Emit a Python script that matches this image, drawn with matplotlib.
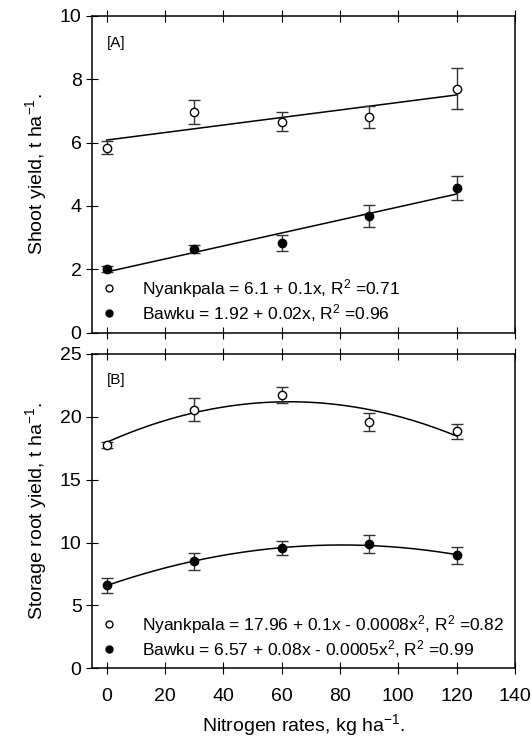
import numpy as np
import matplotlib
matplotlib.use("Agg")
import matplotlib.pyplot as plt
from matplotlib.lines import Line2D

plt.rcParams['font.family'] = ['Liberation Sans', 'DejaVu Sans']
plt.rcParams['mathtext.fontset'] = 'custom'
plt.rcParams['mathtext.rm'] = 'Liberation Sans'
plt.rcParams['mathtext.it'] = 'Liberation Sans:italic'

# nitrogen rates, kg/ha
n_rates = np.array([0, 30, 60, 90, 120])

# [A] shoot yield, t/ha
shoot_nyankpala = np.array([5.84, 6.96, 6.65, 6.8, 7.7])
shoot_nyankpala_err = np.array([0.21, 0.38, 0.30, 0.35, 0.65])
shoot_bawku = np.array([2.02, 2.63, 2.83, 3.68, 4.57])
shoot_bawku_err = np.array([0.10, 0.13, 0.26, 0.35, 0.38])

# [B] storage root yield, t/ha
root_nyankpala = np.array([17.75, 20.55, 21.72, 19.6, 18.85])
root_nyankpala_err = np.array([0.27, 0.9, 0.65, 0.7, 0.6])
root_bawku = np.array([6.6, 8.5, 9.55, 9.85, 9.0])
root_bawku_err = np.array([0.58, 0.65, 0.56, 0.72, 0.68])

legend_a = [r"Nyankpala = 6.1 + 0.1x, R$^2$ =0.71",
            r"Bawku = 1.92 + 0.02x, R$^2$ =0.96"]
legend_b = [r"Nyankpala = 17.96 + 0.1x - 0.0008x$^2$, R$^2$ =0.82",
            r"Bawku = 6.57 + 0.08x - 0.0005x$^2$, R$^2$ =0.99"]

fig = plt.figure(figsize=(5.32, 7.51), dpi=100)
ax1 = fig.add_axes([0.173, 0.557, 0.795, 0.422])
ax2 = fig.add_axes([0.173, 0.110, 0.795, 0.419])


def panel(ax, yn, en, yb, eb, deg, labels, tag, ylim, yticks, ylabel):
    xs = np.linspace(0, 120, 200)
    for y, e, fc in ((yn, en, 'white'), (yb, eb, 'black')):
        fit = np.polyfit(n_rates, y, deg)
        ax.plot(xs, np.polyval(fit, xs), color='black', lw=1.1, zorder=2)
        ax.errorbar(n_rates, y, yerr=e, fmt='o', mfc=fc, mec='black',
                    ecolor='#333333', elinewidth=1.0, capsize=4, capthick=1.0,
                    ms=6, mew=1.0, zorder=3)
    handles = [Line2D([], [], ls='none', marker='o', mfc='white', mec='black', ms=5),
               Line2D([], [], ls='none', marker='o', mfc='black', mec='black', ms=5)]
    ax.legend(handles, labels, loc='lower left', frameon=False, fontsize=12.5,
              handlelength=1.0, handletextpad=1.35, borderaxespad=0.1,
              labelspacing=0.12, bbox_to_anchor=(0.0, 0.0))
    ax.text(0.035, 0.915, tag, transform=ax.transAxes, fontsize=11,
            va='center', ha='left')
    ax.set_xlim(-5, 140)
    ax.set_ylim(*ylim)
    ax.set_yticks(yticks)
    ax.set_xticks(np.arange(0, 141, 20))
    ax.tick_params(axis='x', which='both', direction='inout', length=8,
                   top=True, bottom=True, labelsize=14, pad=10)
    ax.tick_params(axis='y', direction='inout', length=8, labelsize=14)
    ax.set_ylabel(ylabel, fontsize=14, labelpad=8)
    for s in ax.spines.values():
        s.set_linewidth(1.1)


panel(ax1, shoot_nyankpala, shoot_nyankpala_err, shoot_bawku, shoot_bawku_err, 1,
      legend_a, '[A]', (0, 10), np.arange(0, 11, 2), r"Shoot yield, t ha$^{-1}$.")
panel(ax2, root_nyankpala, root_nyankpala_err, root_bawku, root_bawku_err, 2,
      legend_b, '[B]', (0, 25), np.arange(0, 26, 5), r"Storage root yield, t ha$^{-1}$.")

ax1.tick_params(axis='x', labelbottom=False)
ax2.set_xlabel(r"Nitrogen rates, kg ha$^{-1}$.", fontsize=14, labelpad=5)

fig.savefig("out.png", dpi=100)
